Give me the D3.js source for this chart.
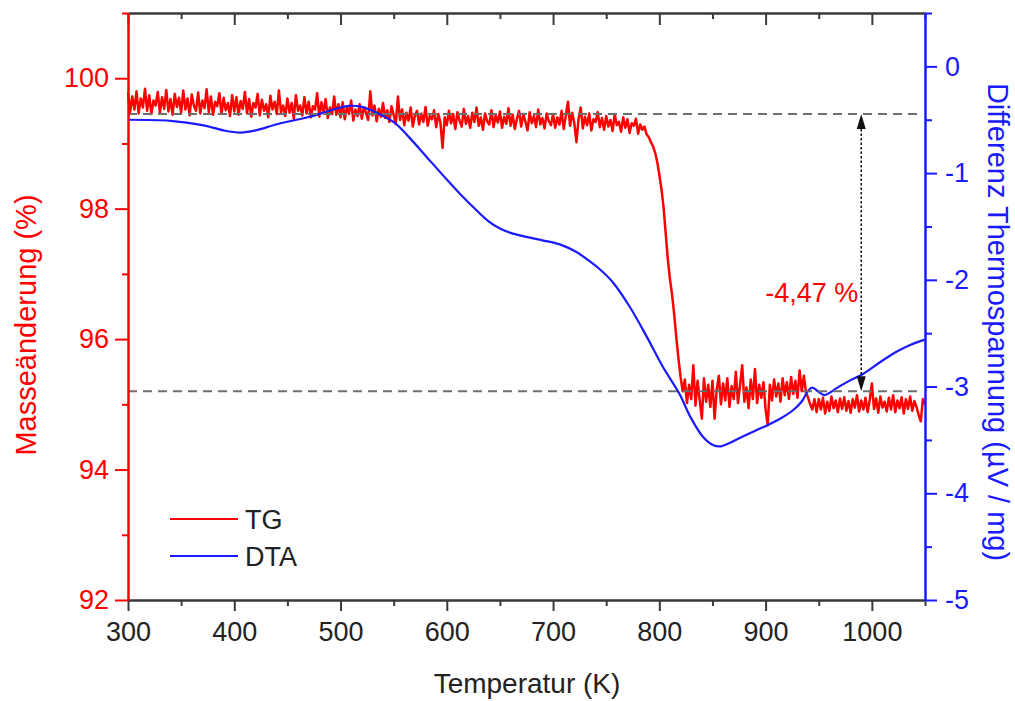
<!DOCTYPE html>
<html>
<head>
<meta charset="utf-8">
<script src="https://cdn.jsdelivr.net/npm/d3@7"></script>
<style>
  html, body { margin: 0; padding: 0; background: #fff; }
  svg { display: block; font-family: "Liberation Sans", Arial, Helvetica, sans-serif; }
</style>
</head>
<body>
<svg id="chart" width="1015" height="701"></svg>
<script>
// Thermogravimetry (TG, mass %) sampled every 2 K from 300 K to 1050 K
const tgStartK = 300;
const tgStepK = 2;
const tgMass = [
  // 300 – 348 K
  99.78, 99.48, 99.72, 99.52, 99.80, 99.46, 99.69, 99.55, 99.84, 99.50, 99.74, 99.45, 99.66, 99.58, 99.79, 99.47, 99.71, 99.53, 99.82, 99.49, 99.68, 99.44, 99.76, 99.56, 99.70,
  // 350 – 398 K
  99.47, 99.81, 99.52, 99.69, 99.43, 99.75, 99.58, 99.50, 99.78, 99.46, 99.66, 99.54, 99.83, 99.48, 99.72, 99.44, 99.64, 99.57, 99.77, 99.45, 99.70, 99.51, 99.62, 99.42, 99.74,
  // 400 – 448 K
  99.49, 99.71, 99.44, 99.65, 99.53, 99.79, 99.46, 99.68, 99.41, 99.62, 99.55, 99.76, 99.43, 99.67, 99.50, 99.60, 99.40, 99.73, 99.52, 99.64, 99.45, 99.81, 99.48, 99.58, 99.42,
  // 450 – 498 K
  99.69, 99.47, 99.62, 99.38, 99.74, 99.50, 99.58, 99.43, 99.71, 99.46, 99.64, 99.40, 99.57, 99.52, 99.77, 99.41, 99.63, 99.48, 99.68, 99.39, 99.55, 99.45, 99.72, 99.44, 99.60,
  // 500 – 548 K
  99.40, 99.63, 99.37, 99.56, 99.45, 99.66, 99.35, 99.52, 99.42, 99.60, 99.38, 99.55, 99.47, 99.36, 99.80, 99.43, 99.58, 99.34, 99.53, 99.41, 99.62, 99.39, 99.51, 99.33, 99.57,
  // 550 – 598 K
  99.44, 99.30, 99.72, 99.36, 99.52, 99.28, 99.47, 99.35, 99.55, 99.26, 99.43, 99.50, 99.29, 99.46, 99.33, 99.56, 99.27, 99.42, 99.37, 99.51, 99.25, 99.45, 99.32, 98.93, 99.40,
  // 600 – 648 K
  99.28, 99.50, 99.31, 99.45, 99.22, 99.48, 99.35, 99.26, 99.53, 99.30, 99.42, 99.24, 99.47, 99.33, 99.55, 99.27, 99.40, 99.21, 99.46, 99.34, 99.29, 99.51, 99.25, 99.43, 99.32,
  // 650 – 698 K
  99.49, 99.24, 99.41, 99.30, 99.54, 99.27, 99.44, 99.22, 99.38, 99.50, 99.26, 99.45, 99.33, 99.20, 99.48, 99.31, 99.42, 99.25, 99.52, 99.29, 99.39, 99.23, 99.46, 99.34, 99.28,
  // 700 – 748 K
  99.45, 99.24, 99.40, 99.29, 99.50, 99.22, 99.43, 99.64, 99.27, 99.47, 99.31, 99.02, 99.38, 99.55, 99.23, 99.41, 99.28, 99.46, 99.20, 99.37, 99.33, 99.48, 99.25, 99.39, 99.21,
  // 750 – 798 K
  99.42, 99.26, 99.36, 99.19, 99.45, 99.28, 99.33, 99.18, 99.40, 99.24, 99.37, 99.16, 99.31, 99.27, 99.38, 99.15, 99.29, 99.21, 99.26, 99.14, 99.10, 99.02, 98.96, 98.86, 98.72,
  // 800 – 848 K
  98.52, 98.30, 98.02, 97.62, 97.22, 96.92, 96.68, 96.38, 96.02, 95.70, 95.42, 95.20, 95.38, 95.02, 95.30, 95.08, 95.60, 94.98, 95.36, 95.06, 94.78, 95.40, 95.04, 95.30, 94.96,
  // 850 – 898 K
  95.36, 94.78, 95.22, 95.44, 95.00, 95.32, 95.06, 95.40, 94.96, 95.28, 95.08, 95.50, 95.02, 95.30, 95.60, 95.04, 95.26, 94.94, 95.38, 95.08, 95.54, 95.02, 95.30, 95.10, 95.34,
  // 900 – 948 K
  94.92, 94.68, 95.30, 95.06, 95.38, 95.12, 95.32, 95.04, 95.40, 95.14, 95.34, 95.08, 95.42, 95.16, 95.36, 95.10, 95.52, 95.20, 95.44, 95.18, 95.10, 95.00, 94.92, 95.08, 94.88,
  // 950 – 998 K
  95.08, 94.92, 95.10, 94.86, 95.04, 94.90, 95.12, 94.94, 95.06, 94.88, 95.09, 94.93, 95.11, 94.90, 95.05, 94.87, 95.08, 94.95, 95.14, 94.89, 95.06, 94.92, 95.10, 94.88, 95.07,
  // 1000 – 1050 K
  95.32, 94.93, 95.09, 94.87, 95.12, 94.95, 95.04, 94.89, 95.10, 94.92, 95.14, 94.88, 95.06, 94.94, 95.11, 94.86, 95.08, 94.93, 95.12, 94.90, 95.05, 94.96, 94.84, 94.74, 95.08,
  95.00
];

// Differential thermal analysis (DTA, µV/mg)
const dtaTemp = [300, 340, 370, 390, 406, 420, 441, 472, 495, 508, 520, 535, 551, 565, 582, 600, 613, 626, 639, 650, 660, 676, 690, 707, 722, 735, 745, 756, 772, 788, 803, 819, 829, 841, 851, 858, 866, 880, 898, 914, 926, 934, 940, 944, 950, 955, 960, 966, 980, 992, 1008, 1024, 1036, 1050];
const dtaSignal = [-0.50, -0.51, -0.55, -0.60, -0.62, -0.60, -0.54, -0.47, -0.40, -0.37, -0.38, -0.44, -0.53, -0.67, -0.86, -1.06, -1.20, -1.33, -1.45, -1.52, -1.56, -1.60, -1.63, -1.67, -1.74, -1.83, -1.91, -2.02, -2.25, -2.53, -2.81, -3.07, -3.28, -3.47, -3.55, -3.56, -3.53, -3.46, -3.38, -3.30, -3.22, -3.14, -3.04, -3.01, -3.05, -3.08, -3.06, -3.02, -2.94, -2.88, -2.77, -2.67, -2.61, -2.56];

// Axis ticks
const xTicks = [300, 400, 500, 600, 700, 800, 900, 1000];
const xMinorTicks = [350, 450, 550, 650, 750, 850, 950, 1050];
const massTicks = [92, 94, 96, 98, 100];
const massMinorTicks = [93, 95, 97, 99, 101];
const dtaTicks = [0, -1, -2, -3, -4, -5];
const dtaMinorTicks = [0.5, -0.5, -1.5, -2.5, -3.5, -4.5];

// Mass-loss annotation
const massLevelBefore = 99.45;
const massLevelAfter = 95.2;
const massLossLabel = "-4,47 %";
const arrowTemp = 990;

const series = [
  { name: "TG", color: "#ff0000" },
  { name: "DTA", color: "#1a1aff" }
];

const RED = "#ff0000", BLUE = "#1a1aff", INK = "#222";

const svg = d3.select("#chart");
const x = d3.scaleLinear().domain([300, 1050]).range([128, 925]);
const yL = d3.scaleLinear().domain([92, 101]).range([600, 13]);
const yR = d3.scaleLinear().domain([-5, 0.5]).range([600, 13]);

const tgData = tgMass.map((v, i) => ({ t: tgStartK + i * tgStepK, v }));
const dtaData = dtaTemp.map((t, i) => ({ t, v: dtaSignal[i] }));

// Data lines
svg.append("path")
  .datum(tgData)
  .attr("fill", "none")
  .attr("stroke", RED)
  .attr("stroke-width", 2.5)
  .attr("stroke-linejoin", "round")
  .attr("d", d3.line().x(d => x(d.t)).y(d => yL(d.v)));

svg.append("path")
  .datum(dtaData)
  .attr("fill", "none")
  .attr("stroke", BLUE)
  .attr("stroke-width", 2.2)
  .attr("d", d3.line().curve(d3.curveCatmullRom.alpha(0.5)).x(d => x(d.t)).y(d => yR(d.v)));

// Reference levels before and after the mass step
[massLevelBefore, massLevelAfter].forEach(m => {
  svg.append("line")
    .attr("x1", x(300)).attr("x2", x(1045))
    .attr("y1", yL(m)).attr("y2", yL(m))
    .attr("stroke", "#6e6e6e")
    .attr("stroke-width", 2)
    .attr("stroke-dasharray", "9,6");
});

// Double-headed arrow between the levels
const ax = x(arrowTemp), ayTop = yL(massLevelBefore), ayBot = yL(massLevelAfter);
const head = 15, half = 4.5;
svg.append("line")
  .attr("x1", ax).attr("x2", ax)
  .attr("y1", ayTop + head).attr("y2", ayBot - head)
  .attr("stroke", "#111").attr("stroke-width", 1.5)
  .attr("stroke-dasharray", "2.5,2");
svg.append("path")
  .attr("d", `M${ax},${ayTop} L${ax - half},${ayTop + head} L${ax + half},${ayTop + head} Z`)
  .attr("fill", "#111");
svg.append("path")
  .attr("d", `M${ax},${ayBot} L${ax - half},${ayBot - head} L${ax + half},${ayBot - head} Z`)
  .attr("fill", "#111");

svg.append("text")
  .attr("x", ax - 3).attr("y", 302)
  .attr("text-anchor", "end")
  .attr("fill", RED)
  .attr("font-size", 27)
  .text(massLossLabel);

// Axes
function styleAxis(g, color, fontSize) {
  g.selectAll(".domain").attr("stroke", color).attr("stroke-width", 2);
  g.selectAll(".tick line").attr("stroke", color).attr("stroke-width", 2);
  g.selectAll(".tick text").attr("fill", color).attr("font-size", fontSize)
    .attr("font-family", '"Liberation Sans", Arial, Helvetica, sans-serif');
}

// bottom
const gBottom = svg.append("g").attr("transform", "translate(0,600)")
  .call(d3.axisBottom(x).tickValues(xTicks).tickSize(11).tickSizeOuter(0).tickPadding(11).tickFormat(d3.format("d")));
styleAxis(gBottom, "#3a3a3a", 27);
gBottom.selectAll(".tick text").attr("fill", INK);
const gBottomMinor = svg.append("g").attr("transform", "translate(0,600)")
  .call(d3.axisBottom(x).tickValues(xMinorTicks).tickSize(6).tickSizeOuter(0).tickFormat(""));
styleAxis(gBottomMinor, "#3a3a3a", 27);

// top (mirror ticks pointing inward)
const gTop = svg.append("g").attr("transform", "translate(0,13)")
  .call(d3.axisBottom(x).tickValues(xTicks).tickSize(12).tickSizeOuter(0).tickFormat(""));
styleAxis(gTop, "#3a3a3a", 27);
const gTopMinor = svg.append("g").attr("transform", "translate(0,13)")
  .call(d3.axisBottom(x).tickValues(xMinorTicks).tickSize(6).tickSizeOuter(0).tickFormat(""));
styleAxis(gTopMinor, "#3a3a3a", 27);

// left (mass)
const gLeft = svg.append("g").attr("transform", "translate(128,0)")
  .call(d3.axisLeft(yL).tickValues(massTicks).tickSize(13).tickSizeOuter(0).tickPadding(6).tickFormat(d => String(d)));
styleAxis(gLeft, RED, 27);
const gLeftMinor = svg.append("g").attr("transform", "translate(128,0)")
  .call(d3.axisLeft(yL).tickValues(massMinorTicks).tickSize(6).tickSizeOuter(0).tickFormat(""));
styleAxis(gLeftMinor, RED, 27);

// right (DTA)
const gRight = svg.append("g").attr("transform", "translate(925,0)")
  .call(d3.axisRight(yR).tickValues(dtaTicks).tickSize(12).tickSizeOuter(0).tickPadding(8).tickFormat(d => String(d)));
styleAxis(gRight, BLUE, 27);
const gRightMinor = svg.append("g").attr("transform", "translate(925,0)")
  .call(d3.axisRight(yR).tickValues(dtaMinorTicks).tickSize(7).tickSizeOuter(0).tickFormat(""));
styleAxis(gRightMinor, BLUE, 27);

// Axis titles
svg.append("text")
  .attr("x", 527).attr("y", 693)
  .attr("text-anchor", "middle")
  .attr("fill", INK).attr("font-size", 28)
  .text("Temperatur (K)");

svg.append("text")
  .attr("transform", "translate(36,325) rotate(-90)")
  .attr("text-anchor", "middle")
  .attr("fill", RED).attr("font-size", 29)
  .text("Masseänderung (%)");

svg.append("text")
  .attr("transform", "translate(988,322) rotate(90)")
  .attr("text-anchor", "middle")
  .attr("fill", BLUE).attr("font-size", 29)
  .text("Differenz Thermospannung (µV / mg)");

// Legend
const legend = svg.append("g");
series.forEach((s, i) => {
  const cy = 519 + i * 37;
  legend.append("line")
    .attr("x1", 170).attr("x2", 238)
    .attr("y1", cy).attr("y2", cy)
    .attr("stroke", s.color).attr("stroke-width", 2);
  legend.append("text")
    .attr("x", 245).attr("y", cy + 10)
    .attr("fill", INK).attr("font-size", 27)
    .text(s.name);
});
</script>
</body>
</html>
